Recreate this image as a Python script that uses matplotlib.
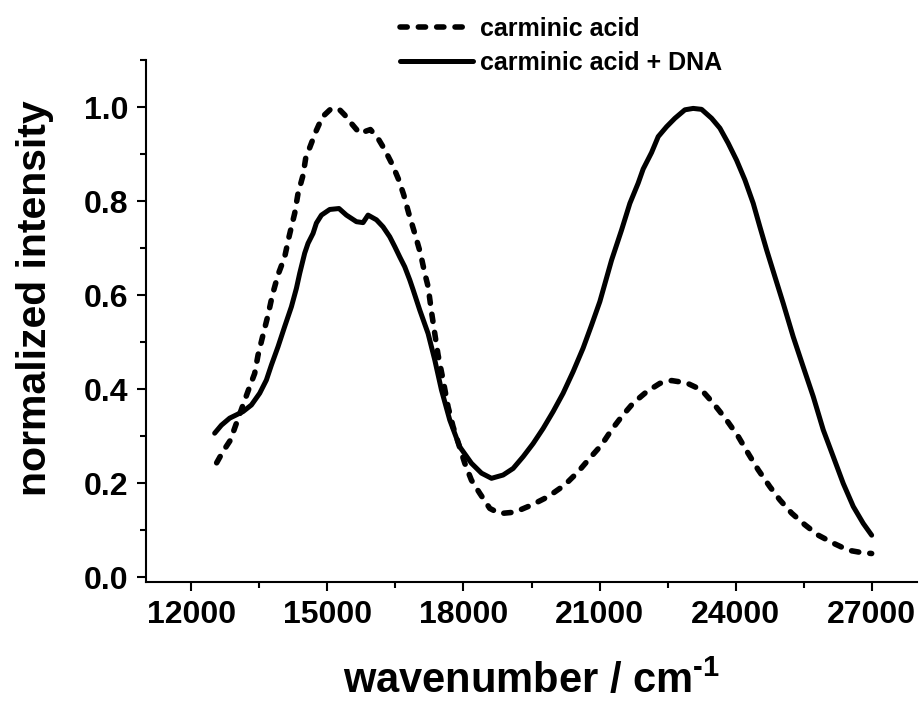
import matplotlib
matplotlib.use("Agg")
import matplotlib.pyplot as plt

plt.rcParams['font.family'] = ['Liberation Sans', 'DejaVu Sans']
plt.rcParams['font.weight'] = 'bold'
plt.rcParams['mathtext.fontset'] = 'custom'
plt.rcParams['mathtext.rm'] = 'Liberation Sans:bold'
plt.rcParams['mathtext.bf'] = 'Liberation Sans:bold'

# carminic acid (dashed)
wn_ca = [12558, 12697, 12860, 12993, 13139, 13286, 13396, 13470, 13580, 13690,
         13787, 13911, 14058, 14154, 14279, 14352, 14463, 14521, 14647, 14742,
         14890, 15088, 15271, 15382, 15529, 15713, 15948, 16117, 16265, 16434,
         16573, 16683, 16793, 16926, 17051, 17147, 17220, 17294, 17367, 17441,
         17551, 17661, 17771, 18029, 18176, 18360, 18580, 18801, 19132, 19500,
         19867, 20235, 20529, 20786, 21044, 21265, 21485, 21742, 22036, 22330,
         22588, 22919, 23250, 23506, 23801, 24058, 24278, 24499, 24757, 24977,
         25235, 25529, 25823, 26154, 26485, 26779, 27000]
int_ca = [0.243, 0.267, 0.291, 0.327, 0.366, 0.405, 0.433, 0.472, 0.515, 0.557,
          0.600, 0.643, 0.681, 0.724, 0.774, 0.816, 0.855, 0.891, 0.923, 0.947,
          0.979, 0.997, 0.994, 0.983, 0.965, 0.944, 0.952, 0.933, 0.909, 0.877,
          0.845, 0.813, 0.774, 0.731, 0.689, 0.646, 0.618, 0.565, 0.518, 0.472,
          0.419, 0.362, 0.320, 0.242, 0.206, 0.178, 0.146, 0.135, 0.138, 0.153,
          0.171, 0.196, 0.224, 0.253, 0.281, 0.313, 0.341, 0.370, 0.394, 0.412,
          0.418, 0.413, 0.398, 0.370, 0.334, 0.299, 0.263, 0.228, 0.192, 0.164,
          0.136, 0.111, 0.089, 0.072, 0.057, 0.052, 0.050]

# carminic acid + DNA (solid)
wn_dna = [12514, 12662, 12845, 12993, 13139, 13324, 13507, 13654, 13765, 13911,
          14058, 14206, 14316, 14389, 14499, 14573, 14683, 14757, 14868, 15051,
          15256, 15419, 15640, 15786, 15896, 16081, 16227, 16374, 16485, 16595,
          16705, 16816, 16890, 17036, 17220, 17367, 17515, 17698, 17918, 18176,
          18397, 18618, 18874, 19095, 19315, 19536, 19756, 19977, 20197, 20418,
          20638, 20824, 21007, 21265, 21485, 21669, 21852, 21962, 22147, 22294,
          22478, 22662, 22882, 23065, 23250, 23471, 23654, 23837, 24021, 24205,
          24389, 24536, 24684, 24867, 25051, 25271, 25492, 25712, 25933, 26154,
          26374, 26595, 26815, 27000]
int_dna = [0.306, 0.323, 0.338, 0.345, 0.352, 0.366, 0.391, 0.419, 0.451, 0.490,
           0.533, 0.575, 0.614, 0.646, 0.689, 0.710, 0.731, 0.753, 0.770, 0.782,
           0.784, 0.770, 0.756, 0.754, 0.770, 0.760, 0.745, 0.724, 0.703, 0.681,
           0.660, 0.632, 0.611, 0.568, 0.518, 0.462, 0.398, 0.334, 0.277, 0.242,
           0.221, 0.210, 0.217, 0.231, 0.256, 0.284, 0.316, 0.352, 0.391, 0.437,
           0.487, 0.536, 0.586, 0.674, 0.738, 0.795, 0.838, 0.868, 0.903, 0.937,
           0.958, 0.976, 0.994, 0.997, 0.995, 0.976, 0.955, 0.923, 0.887, 0.845,
           0.795, 0.745, 0.696, 0.639, 0.582, 0.511, 0.447, 0.384, 0.313, 0.256,
           0.199, 0.150, 0.114, 0.089]

xticks = [12000, 15000, 18000, 21000, 24000, 27000]
yticks = [0.0, 0.2, 0.4, 0.6, 0.8, 1.0]

fig = plt.figure(figsize=(9.23, 7.04), dpi=100)
ax = fig.add_axes([146/923, 1 - 582/704, 771/923, 522/704])

ax.plot(wn_ca, int_ca, color='black', lw=4.0, linestyle=(0, (1.3, 2.0)),
        dash_capstyle='round', label='carminic acid')
ax.plot(wn_dna, int_dna, color='black', lw=3.6, solid_capstyle='round',
        solid_joinstyle='round', label='carminic acid + DNA')

ax.set_xlim(11000, 28000)
ax.set_ylim(-0.0106, 1.1)
ax.set_xticks(xticks)
ax.set_yticks(yticks)
ax.set_xticks([13500, 16500, 19500, 22500, 25500], minor=True)
ax.set_yticks([0.1, 0.3, 0.5, 0.7, 0.9, 1.1], minor=True)
ax.set_yticklabels(['%.1f' % v for v in yticks])

for side in ['top', 'right']:
    ax.spines[side].set_visible(False)
for side in ['left', 'bottom']:
    ax.spines[side].set_linewidth(1.5)

ax.tick_params(which='major', direction='out', length=6.8, width=1.5,
               labelsize=23, pad=6)
ax.tick_params(which='minor', direction='out', length=4, width=1.5)

ax.set_xlabel(r'wavenumber / cm$^{\text{-1}}$', fontsize=30, fontweight='bold')
ax.set_ylabel('normalized intensity', fontsize=29.5, fontweight='bold')
ax.xaxis.set_label_coords(0.5, -0.151)
ax.yaxis.set_label_coords(-0.119, 0.543)

fig.legend(loc='upper left', bbox_to_anchor=(400/923, 1 - 17/704),
           frameon=False, borderpad=0, borderaxespad=0, handlelength=2.9,
           handletextpad=0.3, labelspacing=0.4, fontsize=18)

fig.savefig('out.png', dpi=100)
